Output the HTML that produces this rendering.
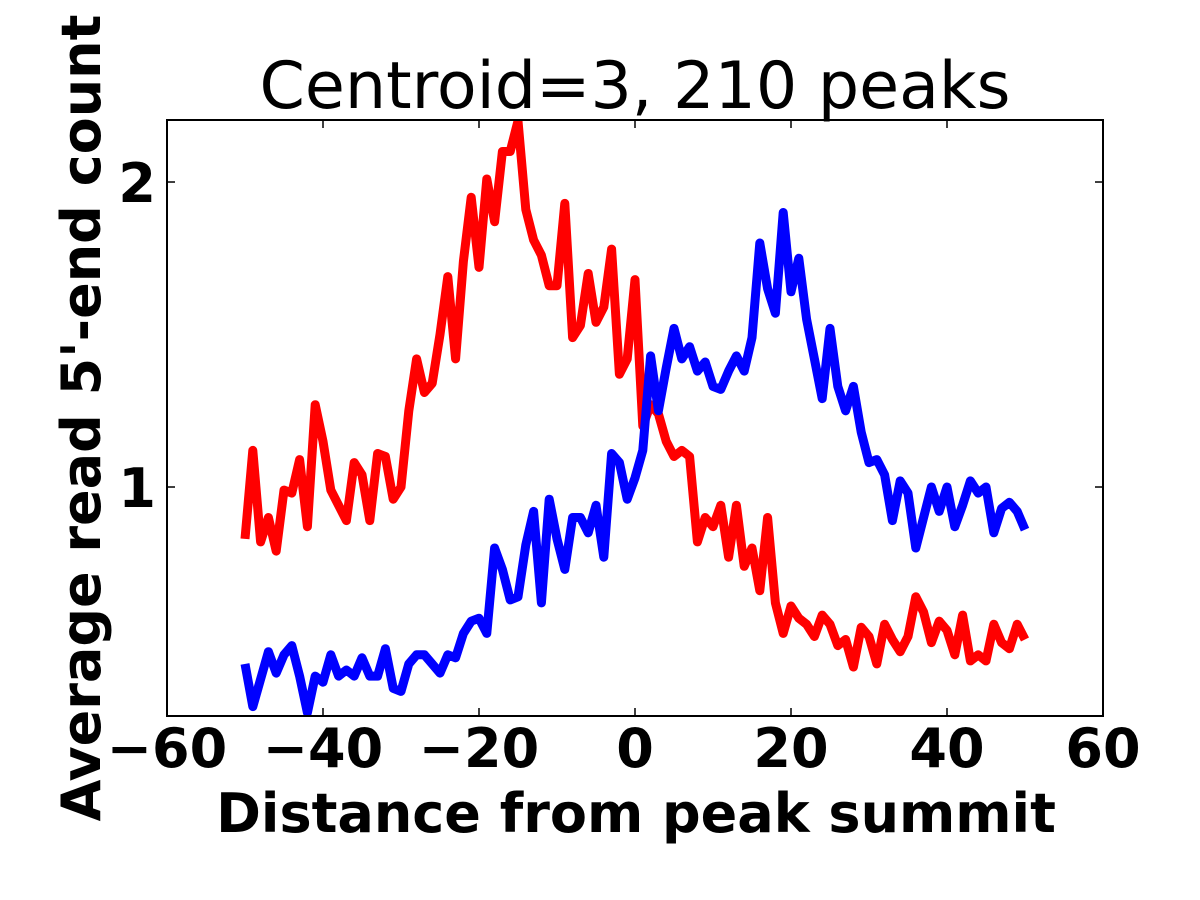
<!DOCTYPE html>
<html><head><meta charset="utf-8"><style>
html,body{margin:0;padding:0;background:#fff;}
svg{display:block;}
text{font-family:"DejaVu Sans","Liberation Sans",sans-serif;fill:#000;}
</style></head><body>
<svg id="chart" width="1200" height="900" viewBox="0 0 1200 900" xmlns="http://www.w3.org/2000/svg">
<rect x="0" y="0" width="1200" height="900" fill="#fff"/>
<text x="635" y="108" text-anchor="middle" font-size="65">Centroid=3, 210 peaks</text>
<g id="plot"></g>
<text x="636" y="832" text-anchor="middle" font-size="54" font-weight="bold">Distance from peak summit</text>
<text transform="translate(100,418) rotate(-90)" text-anchor="middle" font-size="54" font-weight="bold">Average read 5'-end count</text>
</svg>
<script>
const xTicks = [-60,-40,-20,0,20,40,60];
const yTicks = [1,2];
const xStart = -50;
const redValues = [0.83,1.12,0.82,0.90,0.79,0.99,0.98,1.09,0.87,1.27,1.15,0.99,0.94,0.89,1.08,1.04,0.89,1.11,1.10,0.96,1.00,1.25,1.42,1.31,1.34,1.50,1.69,1.42,1.74,1.95,1.72,2.01,1.87,2.10,2.10,2.20,1.91,1.81,1.76,1.66,1.66,1.93,1.49,1.53,1.70,1.54,1.59,1.78,1.37,1.42,1.68,1.20,1.27,1.24,1.15,1.10,1.12,1.10,0.82,0.90,0.87,0.94,0.77,0.94,0.74,0.80,0.66,0.90,0.62,0.52,0.61,0.57,0.55,0.51,0.58,0.55,0.48,0.50,0.41,0.54,0.51,0.42,0.55,0.50,0.46,0.51,0.64,0.59,0.49,0.56,0.53,0.45,0.58,0.43,0.45,0.43,0.55,0.49,0.47,0.55,0.50];
const blueValues = [0.42,0.28,0.37,0.46,0.39,0.45,0.48,0.38,0.26,0.38,0.36,0.45,0.38,0.40,0.38,0.44,0.38,0.38,0.47,0.34,0.33,0.42,0.45,0.45,0.42,0.39,0.45,0.44,0.52,0.56,0.57,0.52,0.80,0.73,0.63,0.64,0.81,0.92,0.62,0.96,0.83,0.73,0.90,0.90,0.85,0.94,0.77,1.11,1.08,0.96,1.03,1.12,1.43,1.25,1.39,1.52,1.42,1.46,1.38,1.41,1.33,1.32,1.38,1.43,1.38,1.49,1.80,1.65,1.57,1.90,1.64,1.75,1.55,1.42,1.29,1.52,1.33,1.25,1.33,1.18,1.08,1.09,1.04,0.89,1.02,0.98,0.80,0.90,1.00,0.92,1.00,0.87,0.94,1.02,0.98,1.00,0.85,0.93,0.95,0.92,0.86];

const L=167,R=1103,T=120,B=716;
const xMin=-60,xMax=60,yMin=0.2492,yMax=2.2033;
const sx=v=>L+(v-xMin)/(xMax-xMin)*(R-L);
const sy=v=>B-(v-yMin)/(yMax-yMin)*(B-T);
const NS="http://www.w3.org/2000/svg";
const plot=document.getElementById('plot');
function mk(tag,attrs,parent){const e=document.createElementNS(NS,tag);for(const k in attrs)e.setAttribute(k,attrs[k]);(parent||plot).appendChild(e);return e;}

const clip=mk('clipPath',{id:'clipA'});
mk('rect',{x:L,y:T,width:R-L,height:B-T},clip);

function drawLine(vals,color,name){
  const pts=vals.map((v,i)=>sx(xStart+i).toFixed(1)+','+sy(v).toFixed(1)).join(' ');
  const pl=mk('polyline',{points:pts,fill:'none',stroke:color,'stroke-width':9,'stroke-linejoin':'round','clip-path':'url(#clipA)'});
  
  
}
drawLine(redValues,'#ff0000','red-series-line');
drawLine(blueValues,'#0000ff','blue-series-line');

const frame=mk('rect',{x:L,y:T,width:R-L,height:B-T,fill:'none',stroke:'#000','stroke-width':2});



xTicks.forEach(t=>{
  const x=sx(t);
  mk('line',{x1:x,x2:x,y1:B,y2:B-8,stroke:'#000','stroke-width':1.5});
  mk('line',{x1:x,x2:x,y1:T,y2:T+8,stroke:'#000','stroke-width':1.5});
  const lb=mk('text',{x:x,y:767,'text-anchor':'middle','font-size':54,'font-weight':'bold'});
  lb.textContent=(t<0?'\u2212':'')+Math.abs(t);
  
  
});
yTicks.forEach(t=>{
  const y=sy(t);
  mk('line',{x1:L,x2:L+8,y1:y,y2:y,stroke:'#000','stroke-width':1.5});
  mk('line',{x1:R,x2:R-8,y1:y,y2:y,stroke:'#000','stroke-width':1.5});
  const lb=mk('text',{x:156,y:y+20,'text-anchor':'end','font-size':54,'font-weight':'bold'});
  lb.textContent=String(t);
  
  
});
</script>
</body></html>
